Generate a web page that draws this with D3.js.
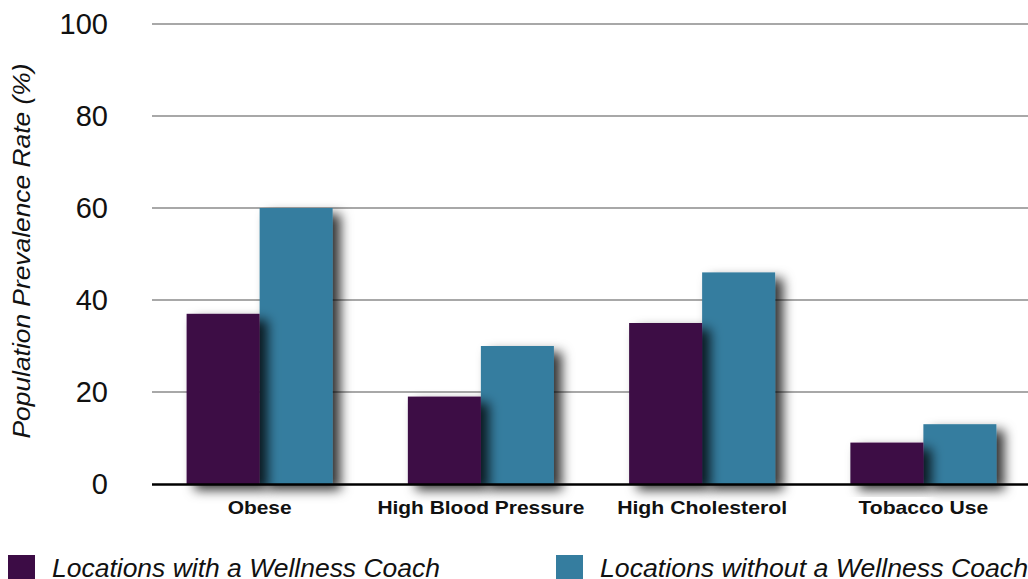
<!DOCTYPE html>
<html>
<head>
<meta charset="utf-8">
<script src="https://cdn.jsdelivr.net/npm/d3@7"></script>
<style>
  html, body { margin: 0; padding: 0; background: #fff; }
  svg { display: block; font-family: "Liberation Sans", Arial, Helvetica, sans-serif; }
</style>
</head>
<body>
<svg id="chart" width="1028" height="579"></svg>
<script>
// Prevalence of health risk factors (%), by location type
const categories = ["Obese", "High Blood Pressure", "High Cholesterol", "Tobacco Use"];
const withCoach = [37, 19, 35, 9];
const withoutCoach = [60, 30, 46, 13];
const seriesNames = ["Locations with a Wellness Coach", "Locations without a Wellness Coach"];
const seriesColors = ["#3c0c45", "#357d9f"];
const yTicks = [0, 20, 40, 60, 80, 100];

const svg = d3.select("#chart");

const defs = svg.append("defs");
const f = defs.append("filter").attr("id", "shadow")
  .attr("x", "-30%").attr("y", "-30%").attr("width", "170%").attr("height", "160%");
f.append("feDropShadow")
  .attr("dx", 8).attr("dy", 6).attr("stdDeviation", 6)
  .attr("flood-color", "#000").attr("flood-opacity", 0.8);

const x = d3.scaleBand().domain(categories).range([149, 1034])
  .paddingInner(0.34).paddingOuter(0.17);
const xs = d3.scaleBand().domain([0, 1]).range([0, x.bandwidth()]);
const y = d3.scaleLinear().domain([0, 100]).range([484, 24]);

// gridlines
svg.append("g").selectAll("line").data(yTicks.filter(d => d > 0)).join("line")
  .attr("x1", 152).attr("x2", 1028)
  .attr("y1", d => y(d)).attr("y2", d => y(d))
  .attr("stroke", "#a8a8a8").attr("stroke-width", 2.2);

// y tick labels
svg.append("g").selectAll("text").data(yTicks).join("text")
  .attr("x", 108).attr("y", d => y(d) + 10)
  .attr("text-anchor", "end")
  .attr("font-size", 29).attr("fill", "#111")
  .text(d => d);

// y axis title
svg.append("text")
  .attr("transform", `translate(30,251) rotate(-90)`)
  .attr("text-anchor", "middle")
  .attr("font-size", 24).attr("font-style", "italic").attr("fill", "#111")
  .attr("textLength", 375).attr("lengthAdjust", "spacingAndGlyphs")
  .text("Population Prevalence Rate (%)");

// bars: the second series goes underneath so the first series' shadow falls on it
const bars = svg.append("g");
[1, 0].forEach(s => {
  const vals = s === 0 ? withCoach : withoutCoach;
  bars.append("g").selectAll("rect").data(categories).join("rect")
    .attr("x", (c) => x(c) + xs(s))
    .attr("width", xs.bandwidth())
    .attr("y", (c, i) => y(vals[i]))
    .attr("height", (c, i) => y(0) - y(vals[i]))
    .attr("fill", seriesColors[s])
    .attr("filter", "url(#shadow)");
});

// baseline
svg.append("line")
  .attr("x1", 152).attr("x2", 1028)
  .attr("y1", y(0) + 0.5).attr("y2", y(0) + 0.5)
  .attr("stroke", "#000").attr("stroke-width", 2.5);

// category labels
const labelWidths = [64, 207, 170, 130];
svg.append("g").selectAll("text").data(categories).join("text")
  .attr("x", c => x(c) + x.bandwidth() / 2)
  .attr("y", 514)
  .attr("text-anchor", "middle")
  .attr("font-size", 19).attr("font-weight", "bold").attr("fill", "#111")
  .attr("textLength", (c, i) => labelWidths[i]).attr("lengthAdjust", "spacingAndGlyphs")
  .text(c => c);

// legend
const legendX = [8, 556];
const legendW = [388, 428];
const lg = svg.append("g");
seriesNames.forEach((name, i) => {
  lg.append("rect")
    .attr("x", legendX[i]).attr("y", 555)
    .attr("width", 27).attr("height", 25)
    .attr("fill", seriesColors[i]);
  lg.append("text")
    .attr("x", legendX[i] + 44).attr("y", 577)
    .attr("font-size", 26).attr("font-style", "italic").attr("fill", "#111")
    .attr("textLength", legendW[i]).attr("lengthAdjust", "spacingAndGlyphs")
    .text(name);
});
</script>
</body>
</html>
